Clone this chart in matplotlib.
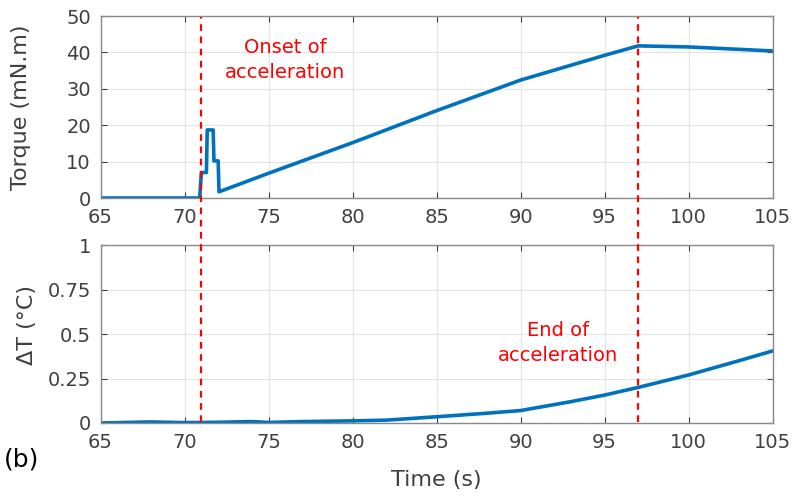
import matplotlib.pyplot as plt
import matplotlib.transforms as mtransforms
from matplotlib.lines import Line2D

# Torque (mN.m) vs time (s)
t_torque = [65, 70.9, 71.0, 71.3, 71.35, 71.7, 71.75, 72.0, 72.05, 75, 80, 85, 90, 95, 97, 100, 105]
torque = [0, 0, 7.0, 7.0, 18.7, 18.7, 10.2, 10.2, 1.7, 6.8, 15.2, 24.0, 32.4, 39.2, 41.8, 41.5, 40.4]

# Temperature rise (°C) vs time (s)
t_temp = [65, 68, 70, 72, 74, 75, 77, 80, 82, 85, 88, 90, 93, 95, 97, 100, 103, 105]
delta_t = [0.0, 0.006, 0.002, 0.004, 0.008, 0.003, 0.008, 0.012, 0.016, 0.035, 0.055, 0.07, 0.12, 0.157, 0.2, 0.27, 0.35, 0.405]

events = [71, 97]

blue = '#0072BD'
grey = '#404040'

fig = plt.figure(figsize=(7.96, 4.97), dpi=100)
ax1 = fig.add_axes([0.1263, 0.6016, 0.8444, 0.3662])
ax2 = fig.add_axes([0.1263, 0.1489, 0.8444, 0.3581])

ax1.plot(t_torque, torque, color=blue, lw=2.6)
ax2.plot(t_temp, delta_t, color=blue, lw=2.6)

ax1.set_ylim(0, 50)
ax1.set_yticks([0, 10, 20, 30, 40, 50])
ax2.set_ylim(0, 1)
ax2.set_yticks([0, 0.25, 0.5, 0.75, 1])
ax2.set_yticklabels(['0', '0.25', '0.5', '0.75', '1'])

for ax in (ax1, ax2):
    ax.set_xlim(65, 105)
    ax.set_xticks(range(65, 106, 5))
    ax.grid(True, color='#e3e3e3', lw=0.8)
    ax.set_axisbelow(True)
    ax.tick_params(direction='in', top=True, right=True, labelsize=14,
                   colors=grey, length=4, pad=7)
    for s in ax.spines.values():
        s.set_color('#8a8a8a')
        s.set_linewidth(1.0)

ax1.set_ylabel('Torque (mN.m)', fontsize=16, color=grey)
ax1.yaxis.set_label_coords(-0.103, 0.5)
ax2.set_ylabel('ΔT (°C)', fontsize=16, color=grey)
ax2.yaxis.set_label_coords(-0.094, 0.55)
ax2.set_xlabel('Time (s)', fontsize=16, color=grey, labelpad=13)

# dashed lines running through both panels
trans = mtransforms.blended_transform_factory(ax2.transData, fig.transFigure)
for x in events:
    fig.add_artist(Line2D([x, x], [0.150, 0.966], transform=trans,
                          color='red', lw=1.6, ls=(0, (3, 2.5))))

ax1.text(76.0, 38, 'Onset of\nacceleration', color='red', fontsize=14,
         ha='center', va='center', linespacing=1.4)
ax2.text(92.2, 0.45, 'End of\nacceleration', color='red', fontsize=14,
         ha='center', va='center', linespacing=1.4)

fig.text(0.005, 0.076, '(b)', fontsize=18, color='black', va='center')

fig.savefig('out.png', dpi=100)
